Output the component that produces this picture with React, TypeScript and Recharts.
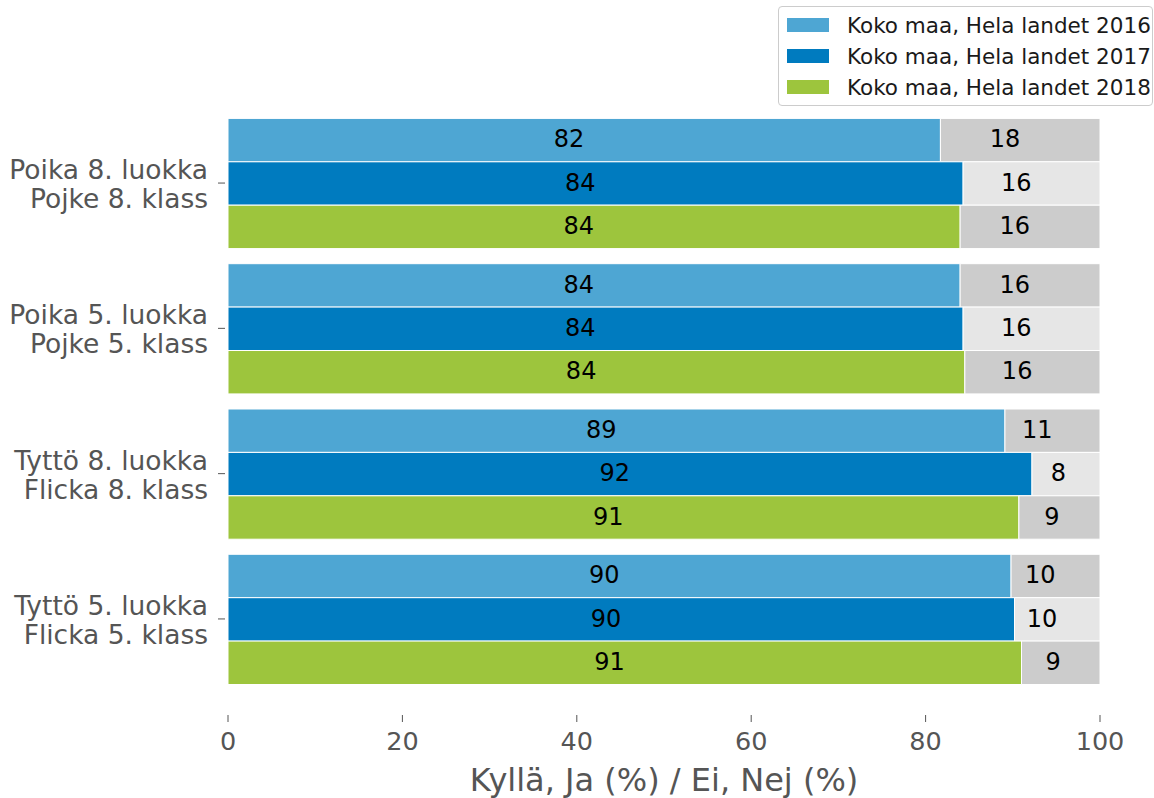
import { BarChart, Bar, XAxis, YAxis, LabelList, Label } from 'recharts';

const groupsFi = ['Poika 8. luokka', 'Poika 5. luokka', 'Tyttö 8. luokka', 'Tyttö 5. luokka'];
const groupsSv = ['Pojke 8. klass', 'Pojke 5. klass', 'Flicka 8. klass', 'Flicka 5. klass'];

const years = ['2016', '2017', '2018'];
const seriesNames = ['Koko maa, Hela landet 2016', 'Koko maa, Hela landet 2017', 'Koko maa, Hela landet 2018'];

// "Kyllä, Ja" share (bar length) and "Ei, Nej" share
const yes2016 = [81.7, 83.96, 89.1, 89.8];
const no2016 = [18.3, 16.04, 10.9, 10.2];
const yes2017 = [84.3, 84.3, 92.2, 90.2];
const no2017 = [15.7, 15.7, 7.8, 9.8];
const yes2018 = [83.96, 84.5, 90.7, 91.0];
const no2018 = [16.04, 15.5, 9.3, 9.0];

// printed labels
const yesLabel2016 = [82, 84, 89, 90];
const noLabel2016 = [18, 16, 11, 10];
const yesLabel2017 = [84, 84, 92, 90];
const noLabel2017 = [16, 16, 8, 10];
const yesLabel2018 = [84, 84, 91, 91];
const noLabel2018 = [16, 16, 9, 9];

const xTicks = [0, 20, 40, 60, 80, 100];

const yesColors = ['#4ea6d3', '#007bbf', '#9dc53d'];
const noColors = ['#cccccc', '#e6e6e6', '#cccccc'];

const FONT = '"DejaVu Sans", sans-serif';

const data = groupsFi.map((name, i) => ({
  name,
  y2016: yes2016[i], n2016: no2016[i], ly2016: yesLabel2016[i], ln2016: noLabel2016[i],
  y2017: yes2017[i], n2017: no2017[i], ly2017: yesLabel2017[i], ln2017: noLabel2017[i],
  y2018: yes2018[i], n2018: no2018[i], ly2018: yesLabel2018[i], ln2018: noLabel2018[i],
}));

const SegmentLabel = (props: any) => {
  const { x, y, width, height, value } = props;
  const cx = x + width / 2;
  return (
    <text x={cx} y={y + height / 2} dy="0.3em" textAnchor="end" fontSize={24} fill="#000" fontFamily={FONT}>
      {value}
    </text>
  );
};

const CategoryTick = (props: any) => {
  const { x, y, index } = props;
  return (
    <g>
      <line x1={x - 10} x2={x - 3} y1={y} y2={y} stroke="#555" strokeWidth={1} />
      <text x={x - 20} y={y - 4} textAnchor="end" fontSize={26.5} fill="#555" fontFamily={FONT}>
        {groupsFi[index]}
      </text>
      <text x={x - 20} y={y + 25} textAnchor="end" fontSize={26.5} fill="#555" fontFamily={FONT}>
        {groupsSv[index]}
      </text>
    </g>
  );
};

function LegendBox() {
  return (
    <div
      style={{
        position: 'absolute', left: 778, top: 6, width: 375, height: 100,
        border: '1px solid #cccccc', borderRadius: 4, background: 'rgba(255,255,255,0.85)',
        boxSizing: 'border-box', fontFamily: FONT,
      }}
    >
      {seriesNames.map((s, i) => (
        <div key={s} style={{ position: 'absolute', left: 8, top: 6 + i * 31, height: 24, display: 'flex', alignItems: 'center' }}>
          <div style={{ width: 42, height: 14, background: yesColors[i] }} />
          <span style={{ marginLeft: 18, fontSize: 21.5, color: '#1a1a1a', whiteSpace: 'nowrap' }}>{s}</span>
        </div>
      ))}
    </div>
  );
}

export default function App() {
  return (
    <div style={{ position: 'absolute', left: 0, top: 0, width: 1154, height: 798 }}>
      <BarChart
        width={1154}
        height={798}
        data={data}
        layout="vertical"
        margin={{ top: 87, right: 54, bottom: 3, left: 0 }}
        barGap={0}
        barSize={43.4}
      >
        <XAxis
          type="number"
          domain={[0, 100]}
          ticks={xTicks}
          axisLine={false}
          tickLine={{ stroke: '#555' }}
          tickSize={7}
          tickMargin={10}
          height={80}
          tick={{ fill: '#555', fontSize: 25.5, fontFamily: FONT }}
        >
          <Label
            content={(p: any) => {
              const vb = p.viewBox;
              return (
                <text x={vb.x + vb.width / 2} y={vb.y + 76} textAnchor="middle" fontSize={32} fill="#555" fontFamily={FONT}>
                  Kyllä, Ja (%) / Ei, Nej (%)
                </text>
              );
            }}
          />
        </XAxis>
        <YAxis
          type="category"
          dataKey="name"
          width={228}
          axisLine={false}
          tickLine={false}
          tickSize={0}
          tickMargin={0}
          padding={{ top: 23.4, bottom: 23.4 }}
          tick={<CategoryTick />}
        />
        {years.map((yr, i) => [
          <Bar key={'y' + yr} dataKey={'y' + yr} stackId={'s' + yr} fill={yesColors[i]} stroke="#fff" strokeWidth={1} isAnimationActive={false}>
            <LabelList dataKey={'ly' + yr} content={<SegmentLabel />} />
          </Bar>,
          <Bar key={'n' + yr} dataKey={'n' + yr} stackId={'s' + yr} fill={noColors[i]} stroke="#fff" strokeWidth={1} isAnimationActive={false}>
            <LabelList dataKey={'ln' + yr} content={<SegmentLabel />} />
          </Bar>,
        ])}
      </BarChart>
      <LegendBox />
    </div>
  );
}
